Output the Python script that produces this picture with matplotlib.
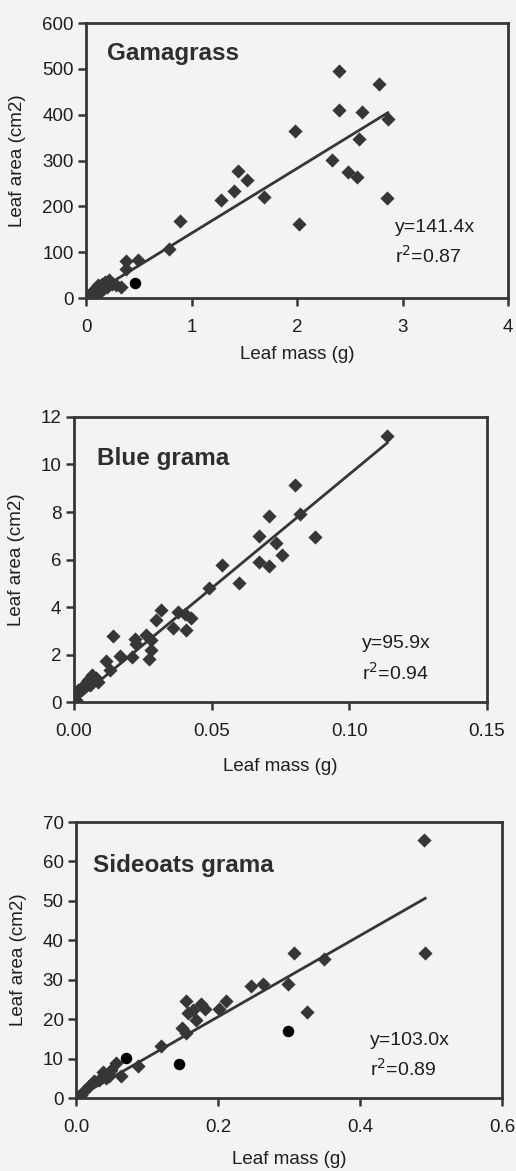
import numpy as np
import matplotlib
matplotlib.use("Agg")
import matplotlib.pyplot as plt

plt.rcParams['font.family'] = ['Liberation Sans', 'DejaVu Sans']

# --- Gamagrass ---
gama_mass = [2.40, 2.78, 2.40, 2.62, 2.86, 1.98, 2.59, 2.33, 2.48, 2.57, 2.85, 2.02,
             1.44, 1.53, 1.40, 1.28, 1.69, 0.89, 0.79, 0.38, 0.49, 0.38,
             0.03, 0.05, 0.07, 0.09, 0.10, 0.12, 0.15, 0.18, 0.22, 0.25, 0.28, 0.33,
             0.20, 0.08, 0.04, 0.13, 0.17, 0.11, 0.06]
gama_area = [496, 468, 410, 405, 390, 364, 348, 302, 274, 263, 219, 162,
             277, 258, 234, 214, 220, 167, 108, 81, 83, 63,
             5, 10, 15, 20, 25, 12, 30, 35, 40, 30, 28, 25,
             25, 8, 3, 18, 22, 28, 14]
gama_out_mass = [0.46]
gama_out_area = [33]
gama_slope = 141.4
gama_r2 = 0.87

# --- Blue grama ---
blue_mass = [0.1137, 0.0803, 0.0821, 0.0876, 0.0709, 0.0671, 0.0733, 0.0755, 0.0673,
             0.0707, 0.0538, 0.0598, 0.0490, 0.0317, 0.0299, 0.0378, 0.0402, 0.0426,
             0.0359, 0.0408, 0.0142, 0.0221, 0.0227, 0.0263, 0.0281, 0.0279, 0.0273,
             0.0166, 0.0209, 0.0118, 0.0130, 0.0064, 0.0080, 0.0052, 0.0043, 0.0028,
             0.0016, 0.0007, 0.0088, 0.0058]
blue_area = [11.19, 9.12, 7.93, 6.95, 7.82, 6.98, 6.69, 6.18, 5.89,
             5.71, 5.75, 5.01, 4.80, 3.86, 3.47, 3.79, 3.72, 3.54,
             3.12, 3.05, 2.76, 2.67, 2.46, 2.81, 2.60, 2.18, 1.82,
             1.92, 1.89, 1.71, 1.33, 1.12, 1.01, 0.91, 0.77, 0.63,
             0.49, 0.07, 0.84, 0.70]
blue_slope = 95.9
blue_r2 = 0.94

# --- Sideoats grama ---
side_mass = [0.4904, 0.4918, 0.3068, 0.3492, 0.2988, 0.3256, 0.2471, 0.2635, 0.2118,
             0.2014, 0.1553, 0.1755, 0.1812, 0.1647, 0.1576, 0.1694, 0.1496, 0.1553,
             0.1191, 0.0871, 0.0635, 0.0494, 0.0376, 0.0471, 0.0329, 0.0259, 0.0188,
             0.0118, 0.0071, 0.0565, 0.0424, 0.0030]
side_area = [65.4, 36.7, 36.9, 35.2, 28.8, 21.8, 28.3, 28.9, 24.7,
             22.7, 24.5, 23.8, 22.5, 22.3, 21.5, 19.8, 17.7, 16.4,
             13.3, 8.2, 5.5, 7.2, 6.7, 5.5, 4.6, 4.2, 3.0,
             1.7, 0.8, 8.9, 5.2, 0.3]
side_out_mass = [0.0706, 0.1445, 0.2988]
side_out_area = [10.1, 8.6, 16.9]
side_slope = 103.0
side_r2 = 0.89

bg = '#f3f3f1'
ink = '#363636'
txt = '#1e1e1e'

fig = plt.figure(figsize=(5.16, 11.71), dpi=100, facecolor=bg)

panels = [
    dict(rect=[0.1667, 0.7455, 0.818, 0.2348], name='Gamagrass',
         mass=gama_mass, area=gama_area, omass=gama_out_mass, oarea=gama_out_area,
         slope=gama_slope, r2=gama_r2, xlim=(0, 4), ylim=(0, 600),
         xticks=[0, 1, 2, 3, 4], xfmt='{:.0f}', yticks=np.arange(0, 601, 100),
         title_pos=(0.05, 0.89), eq_pos=(0.732, 0.258), ylab_x=-0.163, xlab_y=-0.207),
    dict(rect=[0.1434, 0.4005, 0.8004, 0.2434], name='Blue grama',
         mass=blue_mass, area=blue_area, omass=[], oarea=[],
         slope=blue_slope, r2=blue_r2, xlim=(0, 0.15), ylim=(0, 12),
         xticks=[0, 0.05, 0.10, 0.15], xfmt='{:.2f}', yticks=np.arange(0, 13, 2),
         title_pos=(0.056, 0.853), eq_pos=(0.697, 0.207), ylab_x=-0.138, xlab_y=-0.228),
    dict(rect=[0.1473, 0.0623, 0.8256, 0.2357], name='Sideoats grama',
         mass=side_mass, area=side_area, omass=side_out_mass, oarea=side_out_area,
         slope=side_slope, r2=side_r2, xlim=(0, 0.6), ylim=(0, 70),
         xticks=[0, 0.2, 0.4, 0.6], xfmt='{:.1f}', yticks=np.arange(0, 71, 10),
         title_pos=(0.04, 0.844), eq_pos=(0.69, 0.21), ylab_x=-0.136, xlab_y=-0.222),
]

for p in panels:
    ax = fig.add_axes(p['rect'])
    ax.set_facecolor(bg)
    ax.scatter(p['mass'], p['area'], marker='D', s=52, color=ink, zorder=3, linewidths=0)
    if p['omass']:
        ax.scatter(p['omass'], p['oarea'], marker='o', s=68, color='black', zorder=3, linewidths=0)
    xm = max(p['mass'])
    ax.plot([0, xm], [0, p['slope'] * xm], color=ink, lw=2, zorder=2)

    ax.set_xlim(*p['xlim'])
    ax.set_ylim(*p['ylim'])
    ax.set_xticks(p['xticks'])
    ax.set_xticklabels([p['xfmt'].format(v) for v in p['xticks']])
    ax.set_yticks(p['yticks'])
    ax.tick_params(direction='out', length=6, width=1.8, color=ink, labelsize=13.5,
                   labelcolor=txt)
    ax.tick_params(axis='x', pad=9)
    ax.tick_params(axis='y', pad=3)
    for s in ax.spines.values():
        s.set_color(ink)
        s.set_linewidth(2)

    ax.set_xlabel('Leaf mass (g)', fontsize=13.5, color=txt, va='center')
    ax.set_ylabel('Leaf area (cm2)', fontsize=13.5, color=txt, va='center')
    ax.yaxis.set_label_coords(p['ylab_x'], 0.5)
    ax.xaxis.set_label_coords(0.5, p['xlab_y'])

    ax.text(p['title_pos'][0], p['title_pos'][1], p['name'], transform=ax.transAxes,
            fontsize=17.5, fontweight='bold', color='#2e2e2e', va='center', ha='left')
    ex, ey = p['eq_pos']
    ax.text(ex, ey, 'y={:.1f}x'.format(p['slope']), transform=ax.transAxes,
            fontsize=14, color=txt, va='center', ha='left')
    ax.text(ex, ey - 0.105, 'r$^2$={:.2f}'.format(p['r2']), transform=ax.transAxes,
            fontsize=14, color=txt, va='center', ha='left')

fig.savefig('out.png', dpi=100, facecolor=bg)
